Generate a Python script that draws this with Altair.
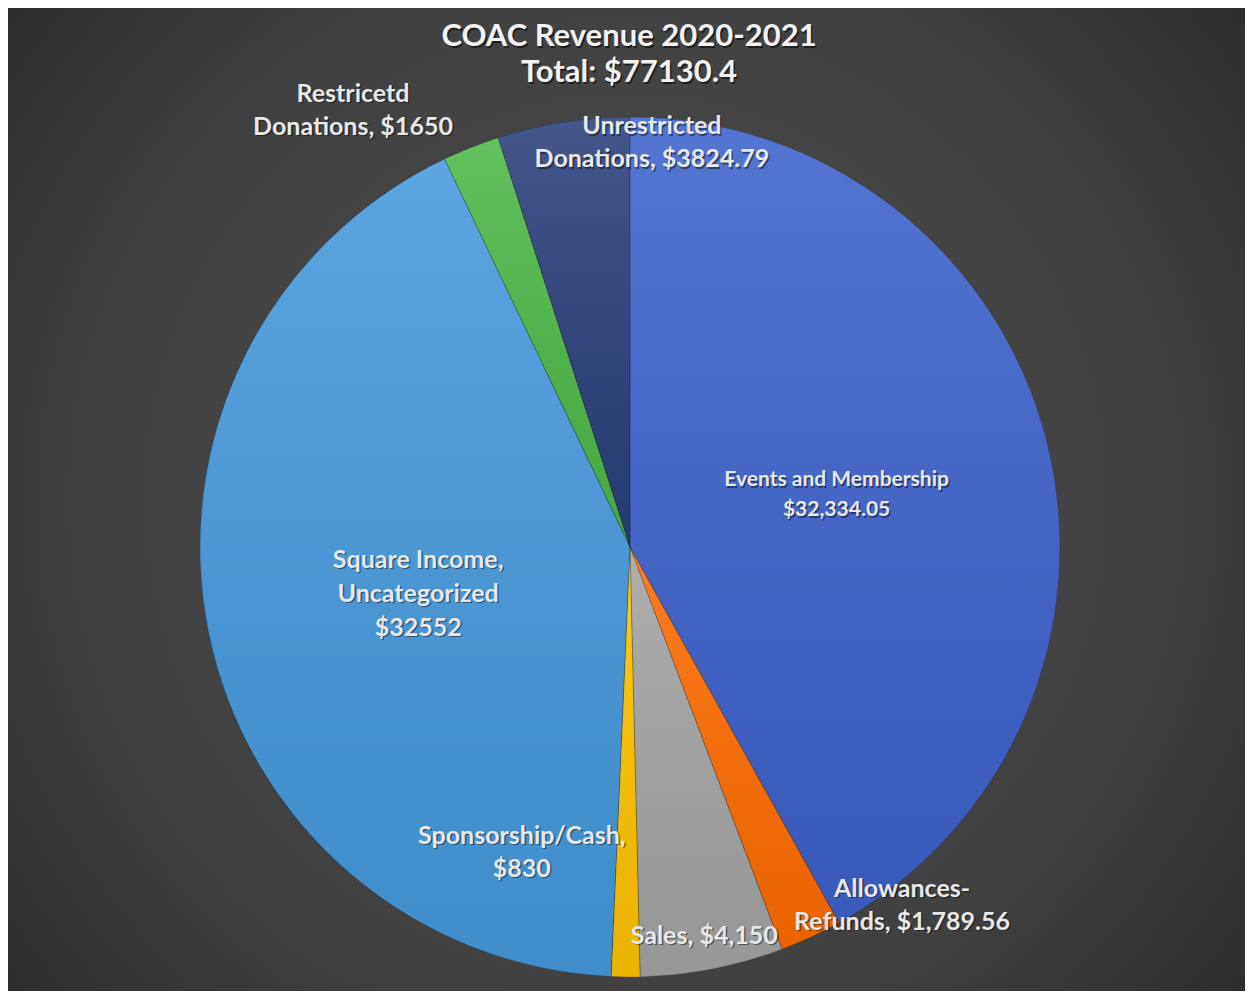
import math
import altair as alt
import pandas as pd

# ---- data ----
categories = [
    "Events and Membership",
    "Allowances-Refunds",
    "Sales",
    "Sponsorship/Cash",
    "Square Income, Uncategorized",
    "Restricted Donations",
    "Unrestricted Donations",
]
values = [32334.05, 1789.56, 4150, 830, 32552, 1650, 3824.79]
label_texts = [
    "Events and Membership\n$32,334.05",
    "Allowances-\nRefunds, $1,789.56",
    "Sales, $4,150",
    "Sponsorship/Cash,\n$830",
    "Square Income,\nUncategorized\n$32552",
    "Restricetd\nDonations, $1650",
    "Unrestricted\nDonations, $3824.79",
]
colors = ["#3e62cc", "#ff6c00", "#a4a4a4", "#ffc300", "#4599dd", "#4db848", "#2b3f7c"]

title_lines = ["COAC Revenue 2020-2021", "Total: $77130.4"]

# ---- layout / style (not data) ----
W, H = 1237, 983
CX, CY = 622, 539
R = 430
label_angle_deg = [75.9, 142.8, 169.2, 199.5, 257.5, 327.6, 3.1]
label_radius = [213, 450, 396, 324, 217, 517, 405]
label_font_size = [21, 25, 25, 25, 25, 25, 25]
label_line_height = [30, 33, 33, 33, 34, 33, 33]
FONT = "Lato"

df = pd.DataFrame({
    "category": categories,
    "value": values,
    "order": list(range(len(categories))),
    "label": label_texts,
    "lab_theta": [math.radians(a) for a in label_angle_deg],
    "lab_r": label_radius,
})

one = pd.DataFrame({"k": [0]})

bg = alt.Chart(one).mark_rect(
    fill=alt.RadialGradient(
        gradient="radial",
        x1=0.5, y1=0.5, r1=0.0,
        x2=0.5, y2=0.5, r2=0.72,
        stops=[
            alt.GradientStop(offset=0, color="#505050"),
            alt.GradientStop(offset=0.6, color="#404040"),
            alt.GradientStop(offset=1, color="#262626"),
        ],
    )
).encode(x=alt.value(0), x2=alt.value(W), y=alt.value(0), y2=alt.value(H))

base = alt.Chart(df).encode(
    theta=alt.Theta("value:Q", stack=True),
    order=alt.Order("order:Q"),
)

pie = base.mark_arc(radius=R).encode(
    color=alt.Color("category:N", scale=alt.Scale(domain=categories, range=colors), legend=None),
    x=alt.value(CX), y=alt.value(CY),
)

shade = base.mark_arc(
    radius=R,
    stroke="rgba(0,0,0,0.22)",
    strokeWidth=0.8,
    fill=alt.LinearGradient(
        gradient="linear",
        x1=0, y1=0, x2=0, y2=1,
        stops=[
            alt.GradientStop(offset=0, color="rgba(255,255,255,0.12)"),
            alt.GradientStop(offset=1, color="rgba(0,0,0,0.08)"),
        ],
    ),
).encode(x=alt.value(CX), y=alt.value(CY))

label_layers = []
for cat, txt, fs, lh in zip(categories, label_texts, label_font_size, label_line_height):
    n = txt.count("\n") + 1
    dy0 = -(n - 1) * lh / 2.0
    common = dict(font=FONT, fontWeight="bold", fontSize=fs, align="center",
                  baseline="middle", lineBreak="\n", lineHeight=lh)
    sub = alt.Chart(df).transform_filter(alt.datum.category == cat)
    enc = dict(
        theta=alt.Theta("lab_theta:Q", scale=None),
        radius=alt.Radius("lab_r:Q", scale=None),
        text="label:N",
        x=alt.value(CX), y=alt.value(CY),
    )
    label_layers.append(sub.mark_text(color="rgba(0,0,0,0.45)", dx=1.5, dy=dy0 + 1.5, **common).encode(**enc))
    label_layers.append(sub.mark_text(color="#e8e8e8", dy=dy0, **common).encode(**enc))

tdf = pd.DataFrame({"t": ["\n".join(title_lines)]})
t_common = dict(font=FONT, fontWeight="bold", fontSize=31, align="center",
                baseline="middle", lineBreak="\n", lineHeight=36)
title_shadow = alt.Chart(tdf).mark_text(color="rgba(0,0,0,0.55)", **t_common).encode(
    text="t:N", x=alt.value(621 + 1.5), y=alt.value(29 + 1.5)
)
title = alt.Chart(tdf).mark_text(color="#f2f2f2", **t_common).encode(
    text="t:N", x=alt.value(621), y=alt.value(29)
)

chart = alt.layer(bg, pie, shade, *label_layers, title_shadow, title).properties(
    width=W, height=H,
    autosize=alt.AutoSizeParams(type="none"),
    padding=0,
).configure_view(stroke=None).configure(background="#3a3a3a")

chart.save("out.html", embed_options={"renderer": "svg", "actions": False})
